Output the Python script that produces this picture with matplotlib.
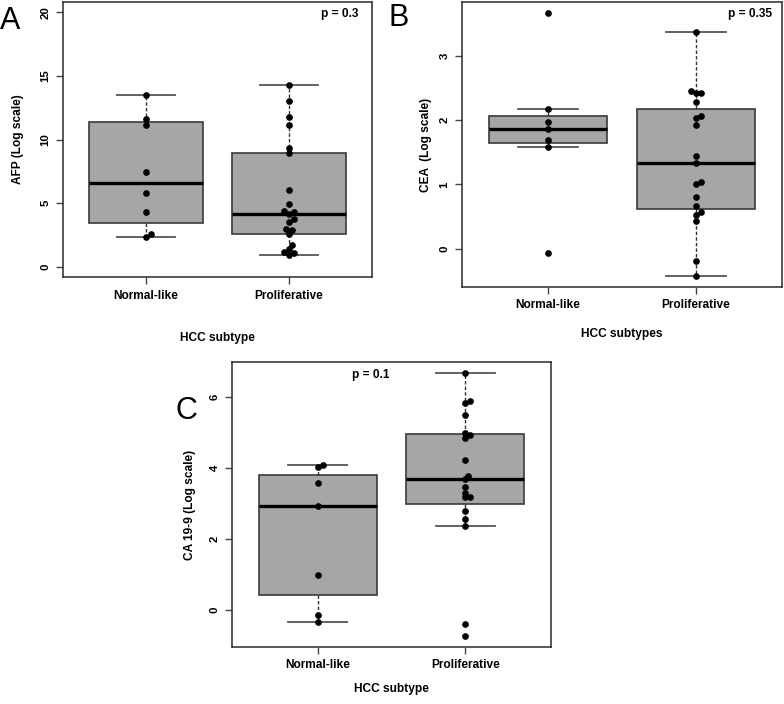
import numpy as np
import matplotlib
matplotlib.use('Agg')
from matplotlib import pyplot as plt

plt.rcParams['font.family'] = ['Liberation Sans', 'DejaVu Sans']

groups = ['Normal-like', 'Proliferative']

# log-scale marker values
afp_normal = [13.49, 11.59, 11.15, 7.42, 5.78, 4.32, 2.60, 2.32]
afp_prolif = [14.27, 13.02, 11.77, 11.15, 9.32, 8.91, 6.02, 4.97, 4.40, 4.32, 4.11,
              3.75, 3.55, 3.00, 2.90, 2.55, 1.75, 1.42, 1.15, 1.05, 0.94]
cea_normal = [3.68, 2.17, 1.97, 1.86, 1.70, 1.585, -0.067]
cea_prolif = [3.38, 2.46, 2.43, 2.42, 2.29, 2.07, 2.04, 1.93, 1.45, 1.33, 1.04, 1.01,
              0.81, 0.67, 0.57, 0.53, 0.435, -0.20, -0.435]
ca199_normal = [4.08, 4.04, 3.58, 2.93, 1.00, -0.15, -0.33]
ca199_prolif = [6.69, 5.89, 5.84, 5.50, 5.00, 4.94, 4.85, 4.24, 3.79, 3.68, 3.48, 3.31,
                3.20, 3.18, 2.79, 2.58, 2.38, -0.40, -0.74]

W, H = 784, 704
fig = plt.figure(figsize=(W / 100, H / 100), dpi=100)


def fivenum(x):
    # Tukey hinges, same as R's boxplot
    x = np.sort(np.asarray(x, float))
    n = len(x)
    n4 = np.floor((n + 3) / 2) / 2
    d = np.array([1, n4, (n + 1) / 2, n + 1 - n4, n]) - 1
    return 0.5 * (x[np.floor(d).astype(int)] + x[np.ceil(d).astype(int)])


def box_stats(x):
    lo, q1, med, q3, hi = fivenum(x)
    iqr = q3 - q1
    x = np.asarray(x, float)
    inside = x[(x >= q1 - 1.5 * iqr) & (x <= q3 + 1.5 * iqr)]
    return dict(med=med, q1=q1, q3=q3, whislo=inside.min(), whishi=inside.max(), fliers=[])


def swarm(ax, values, center, gap=4.6):
    # simple beeswarm: shift a dot sideways until it no longer touches the others
    values = np.asarray(values, float)
    pts = ax.transData.transform(np.column_stack([np.full(len(values), center), values]))
    placed = []
    xs = np.zeros(len(values))
    steps = [0] + [s for k in range(1, 20) for s in (k, -k)]
    for i in np.argsort(values):
        x0, y0 = pts[i]
        for s in steps:
            cand = x0 + s * gap * 0.55
            if all((cand - px) ** 2 + (y0 - py) ** 2 >= gap ** 2 for px, py in placed):
                break
        placed.append((cand, y0))
        xs[i] = cand
    return ax.transData.inverted().transform(np.column_stack([xs, pts[:, 1]]))[:, 0]


def panel(rect_px, normal, prolif, yticks, ylabel, xlabel, ptext, pxy, ylim=None,
          ylab_x=-0.12, xlab_y=-0.15):
    left, top, right, bottom = rect_px
    ax = fig.add_axes([left / W, 1 - bottom / H, (right - left) / W, (bottom - top) / H])
    # R style limits: 4% padding
    if ylim is None:
        ylim = (min(min(normal), min(prolif)), max(max(normal), max(prolif)))
    pad = 0.04 * (ylim[1] - ylim[0])
    ax.set_ylim(ylim[0] - pad, ylim[1] + pad)
    ax.set_xlim(0.42, 2.58)

    ax.bxp([box_stats(normal), box_stats(prolif)], positions=[1, 2], widths=0.8,
           capwidths=0.4, showfliers=False, patch_artist=True,
           boxprops=dict(facecolor='#a6a6a6', edgecolor='#3a3a3a', linewidth=1.2),
           medianprops=dict(color='black', linewidth=2.4),
           whiskerprops=dict(color='#333333', linewidth=1, linestyle=(0, (2.5, 1.5))),
           capprops=dict(color='#555555', linewidth=1.3))

    for pos, vals in zip([1, 2], [normal, prolif]):
        xs = swarm(ax, vals, pos)
        ax.plot(xs, vals, 'o', color='black', markersize=3.8, zorder=4, clip_on=False)

    ax.set_xticks([1, 2])
    ax.set_xticklabels(groups, fontsize=8.6, fontweight='bold')
    ax.set_yticks(yticks)
    ax.set_yticklabels([str(t) for t in yticks], fontsize=8.2, fontweight='bold',
                       rotation=90, va='center')
    ax.tick_params(length=5, width=1, color='#444444', pad=4)
    for sp in ax.spines.values():
        sp.set_color('#2b2b2b')
        sp.set_linewidth(1.1)

    ax.set_ylabel(ylabel, fontsize=8.6, fontweight='bold')
    ax.yaxis.set_label_coords(ylab_x, 0.5)
    ax.set_xlabel(xlabel, fontsize=8.6, fontweight='bold')
    ax.xaxis.set_label_coords(0.5, xlab_y)
    ax.text(pxy[0], pxy[1], ptext, transform=ax.transAxes, ha='center', va='center',
            fontsize=8.6, fontweight='bold')
    return ax


panel((63, 2, 372, 277), afp_normal, afp_prolif, [0, 5, 10, 15, 20],
      'AFP (Log scale)', 'HCC subtype', 'p = 0.3', (0.896, 0.956), ylim=(0, 20),
      ylab_x=-0.126, xlab_y=-0.2)
panel((462, 2, 782, 287), cea_normal, cea_prolif, [0, 1, 2, 3],
      'CEA  (Log scale)', 'HCC subtypes', 'p = 0.35', (0.9, 0.958),
      ylab_x=-0.094, xlab_y=-0.145)
panel((232, 362, 551, 647), ca199_normal, ca199_prolif, [0, 2, 4, 6],
      'CA 19-9 (Log scale)', 'HCC subtype', 'p = 0.1', (0.436, 0.954),
      ylab_x=-0.113, xlab_y=-0.128)

# panel letters
for letter, x, y in [('A', 10, 21), ('B', 399, 18), ('C', 186, 411)]:
    fig.text(x / W, 1 - y / H, letter, fontsize=22, ha='center', va='center')

plt.savefig('out.png', dpi=100)
